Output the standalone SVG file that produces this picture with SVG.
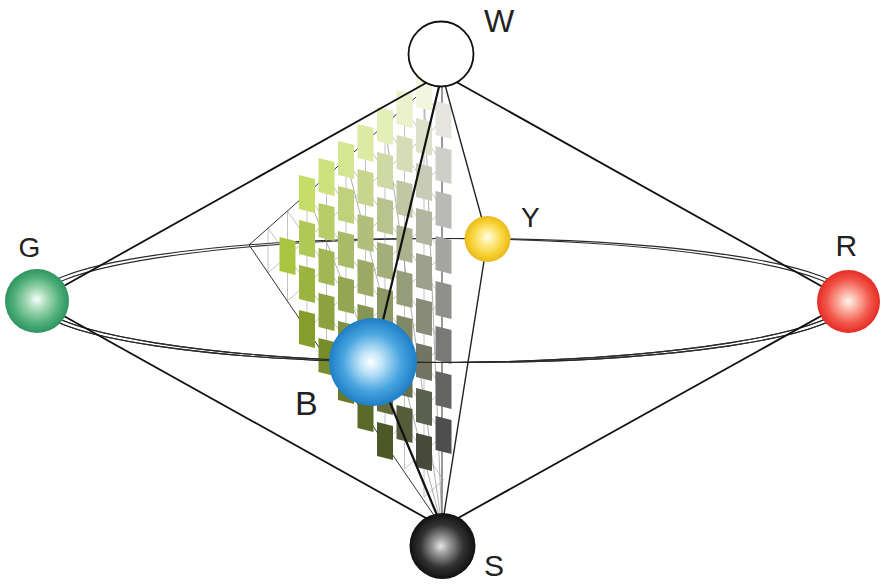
<svg xmlns="http://www.w3.org/2000/svg" xmlns:xlink="http://www.w3.org/1999/xlink" width="885" height="585" viewBox="0 0 885 585">
<style>
.lbl{font-family:"Liberation Sans",Arial,sans-serif;fill:#222}
.grid{stroke:#9a9a9a;stroke-width:0.6;fill:none}
.edge{stroke:#333;stroke-width:1;fill:none}
.cone{stroke:#111;stroke-width:1.8;fill:none}
.meri{stroke:#111;stroke-width:2.2;fill:none}
.meri2{stroke:#222;stroke-width:1.4;fill:none}
.eq{stroke:#2a2a2a;stroke-width:1.1;fill:none}
.fan{stroke:#777;stroke-width:0.6;fill:none}
</style>
<defs>
<path id="chip" d="M-8,-19 L8,-15 L8,19 L-8,15 Z"/>
<radialGradient id="gG" cx="0.5" cy="0.5" r="0.5" fx="0.5" fy="0.47">
<stop offset="0" stop-color="#f4fff8"/><stop offset="0.35" stop-color="#9fd6b2"/><stop offset="0.75" stop-color="#4bad77"/><stop offset="1" stop-color="#2f9460"/>
</radialGradient>
<radialGradient id="gR" cx="0.5" cy="0.5" r="0.5" fx="0.5" fy="0.5">
<stop offset="0" stop-color="#fff4ee"/><stop offset="0.3" stop-color="#fbb0a0"/><stop offset="0.7" stop-color="#f2554a"/><stop offset="1" stop-color="#e42c25"/>
</radialGradient>
<radialGradient id="gY" cx="0.5" cy="0.5" r="0.5" fx="0.5" fy="0.45">
<stop offset="0" stop-color="#fffdf0"/><stop offset="0.3" stop-color="#ffec90"/><stop offset="0.75" stop-color="#f6cf2e"/><stop offset="1" stop-color="#e9b820"/>
</radialGradient>
<radialGradient id="gB" cx="0.5" cy="0.5" r="0.5" fx="0.47" fy="0.5">
<stop offset="0" stop-color="#ffffff"/><stop offset="0.25" stop-color="#c0e4f8"/><stop offset="0.65" stop-color="#4aa6e0"/><stop offset="1" stop-color="#1d7ec6"/>
</radialGradient>
<radialGradient id="gS" cx="0.5" cy="0.5" r="0.5" fx="0.47" fy="0.5">
<stop offset="0" stop-color="#e6e6e6"/><stop offset="0.25" stop-color="#9a9a9a"/><stop offset="0.65" stop-color="#333"/><stop offset="1" stop-color="#101010"/>
</radialGradient>
<clipPath id="front"><rect x="0" y="300.5" width="885" height="300"/></clipPath>
</defs>
<rect width="885" height="585" fill="#ffffff"/>

<g id="connectors-back">
<ellipse class="eq" cx="442.5" cy="300.5" rx="406" ry="62" transform="rotate(0.3 442.5 300.5)"/>
<ellipse class="eq" cx="442.5" cy="300.5" rx="406" ry="62" transform="rotate(-0.3 442.5 300.5)"/>
<line class="edge" x1="442" y1="74" x2="442" y2="527"/>
</g>

<g id="hue-triangle">
<g class="grid">
<path d="M287.5,211V301M307,194V329M326.5,177V357M346,160V385M365.5,143V413M385,126V441M404.5,109V469M424,92V497M268,228V273"/>
<path d="M268,273L443.5,120M287.5,301L443.5,165M307,329L443.5,210M326.5,357L443.5,255M346,385L443.5,300M365.5,413L443.5,345M385,441L443.5,390M404.5,469L443.5,435M424,497L443.5,480"/>
<path d="M268,228L443.5,480M287.5,211L443.5,435M307,194L443.5,390M326.5,177L443.5,345M346,160L443.5,300M365.5,143L443.5,255M385,126L443.5,210M404.5,109L443.5,165M424,92L443.5,120"/>
</g>
<path class="fan" d="M442,527L307,194M442,527L346,160M442,527L385,126M442,527L424,92"/>
<path class="edge" d="M442,74L249,245L442,527"/>
<g id="chips">
<use xlink:href="#chip" href="#chip" x="287.5" y="256" fill="#a9c540"/>
<use xlink:href="#chip" href="#chip" x="307" y="194" fill="#c6de68"/>
<use xlink:href="#chip" href="#chip" x="307" y="239" fill="#b0c954"/>
<use xlink:href="#chip" href="#chip" x="307" y="284" fill="#9bb33f"/>
<use xlink:href="#chip" href="#chip" x="307" y="329" fill="#859e2b"/>
<use xlink:href="#chip" href="#chip" x="326.5" y="177" fill="#cde27c"/>
<use xlink:href="#chip" href="#chip" x="326.5" y="222" fill="#b8cd67"/>
<use xlink:href="#chip" href="#chip" x="326.5" y="267" fill="#a2b753"/>
<use xlink:href="#chip" href="#chip" x="326.5" y="312" fill="#8da23f"/>
<use xlink:href="#chip" href="#chip" x="326.5" y="357" fill="#778c2a"/>
<use xlink:href="#chip" href="#chip" x="346" y="160" fill="#d5e690"/>
<use xlink:href="#chip" href="#chip" x="346" y="205" fill="#bfd17b"/>
<use xlink:href="#chip" href="#chip" x="346" y="250" fill="#aabb67"/>
<use xlink:href="#chip" href="#chip" x="346" y="295" fill="#94a652"/>
<use xlink:href="#chip" href="#chip" x="346" y="340" fill="#7f903e"/>
<use xlink:href="#chip" href="#chip" x="346" y="385" fill="#697b2a"/>
<use xlink:href="#chip" href="#chip" x="365.5" y="143" fill="#dceaa3"/>
<use xlink:href="#chip" href="#chip" x="365.5" y="188" fill="#c7d58f"/>
<use xlink:href="#chip" href="#chip" x="365.5" y="233" fill="#b1bf7a"/>
<use xlink:href="#chip" href="#chip" x="365.5" y="278" fill="#9caa66"/>
<use xlink:href="#chip" href="#chip" x="365.5" y="323" fill="#869452"/>
<use xlink:href="#chip" href="#chip" x="365.5" y="368" fill="#717f3d"/>
<use xlink:href="#chip" href="#chip" x="365.5" y="413" fill="#5b6929"/>
<use xlink:href="#chip" href="#chip" x="385" y="126" fill="#e4eeb7"/>
<use xlink:href="#chip" href="#chip" x="385" y="171" fill="#ced9a3"/>
<use xlink:href="#chip" href="#chip" x="385" y="216" fill="#b9c38e"/>
<use xlink:href="#chip" href="#chip" x="385" y="261" fill="#a3ae7a"/>
<use xlink:href="#chip" href="#chip" x="385" y="306" fill="#8e9865"/>
<use xlink:href="#chip" href="#chip" x="385" y="351" fill="#788351"/>
<use xlink:href="#chip" href="#chip" x="385" y="396" fill="#636d3d"/>
<use xlink:href="#chip" href="#chip" x="385" y="441" fill="#4d5828"/>
<use xlink:href="#chip" href="#chip" x="404.5" y="109" fill="#ebf2cb"/>
<use xlink:href="#chip" href="#chip" x="404.5" y="154" fill="#d6ddb6"/>
<use xlink:href="#chip" href="#chip" x="404.5" y="199" fill="#c0c7a2"/>
<use xlink:href="#chip" href="#chip" x="404.5" y="244" fill="#abb28d"/>
<use xlink:href="#chip" href="#chip" x="404.5" y="289" fill="#959c79"/>
<use xlink:href="#chip" href="#chip" x="404.5" y="334" fill="#808765"/>
<use xlink:href="#chip" href="#chip" x="404.5" y="379" fill="#6a7150"/>
<use xlink:href="#chip" href="#chip" x="404.5" y="424" fill="#555c3c"/>
<use xlink:href="#chip" href="#chip" x="424" y="92" fill="#f3f6de"/>
<use xlink:href="#chip" href="#chip" x="424" y="137" fill="#dde1ca"/>
<use xlink:href="#chip" href="#chip" x="424" y="182" fill="#c8cbb6"/>
<use xlink:href="#chip" href="#chip" x="424" y="227" fill="#b2b6a1"/>
<use xlink:href="#chip" href="#chip" x="424" y="272" fill="#9da08d"/>
<use xlink:href="#chip" href="#chip" x="424" y="317" fill="#878b78"/>
<use xlink:href="#chip" href="#chip" x="424" y="362" fill="#727564"/>
<use xlink:href="#chip" href="#chip" x="424" y="407" fill="#5c6050"/>
<use xlink:href="#chip" href="#chip" x="424" y="452" fill="#474a3b"/>
<use xlink:href="#chip" href="#chip" x="443.5" y="120" fill="#e5e5de"/>
<use xlink:href="#chip" href="#chip" x="443.5" y="165" fill="#cfcfc9"/>
<use xlink:href="#chip" href="#chip" x="443.5" y="210" fill="#b9b9b5"/>
<use xlink:href="#chip" href="#chip" x="443.5" y="255" fill="#a4a4a0"/>
<use xlink:href="#chip" href="#chip" x="443.5" y="300" fill="#8f8f8c"/>
<use xlink:href="#chip" href="#chip" x="443.5" y="345" fill="#797978"/>
<use xlink:href="#chip" href="#chip" x="443.5" y="390" fill="#646463"/>
<use xlink:href="#chip" href="#chip" x="443.5" y="435" fill="#4e4e4f"/>
</g>
</g>

<g id="connectors">
<g clip-path="url(#front)">
<ellipse class="eq" cx="442.5" cy="300.5" rx="406" ry="62" transform="rotate(0.3 442.5 300.5)"/>
<ellipse class="eq" cx="442.5" cy="300.5" rx="406" ry="62" transform="rotate(-0.3 442.5 300.5)"/>
</g>
<path class="cone" d="M37,301L442,74L848,301L442,527Z"/>
<path class="meri" d="M442,74L373,362L442,527"/>
<path class="meri2" d="M442,74L487.5,239L442,527"/>
</g>

<g id="node-W">
<circle cx="441" cy="54" r="32.5" fill="#ffffff" stroke="#111" stroke-width="1.8"/>
<text class="lbl" x="484" y="32" font-size="32">W</text>
</g>
<g id="node-G">
<circle cx="37" cy="301" r="32" fill="url(#gG)"/>
<text class="lbl" x="18.5" y="257" font-size="28">G</text>
</g>
<g id="node-Y">
<circle cx="487.5" cy="239" r="23" fill="url(#gY)"/>
<text class="lbl" x="521" y="227" font-size="28">Y</text>
</g>
<g id="node-R">
<circle cx="848.5" cy="301.5" r="31.5" fill="url(#gR)"/>
<text class="lbl" x="835.5" y="256" font-size="30">R</text>
</g>
<g id="node-B">
<circle cx="373" cy="362" r="44" fill="url(#gB)"/>
<text class="lbl" x="295" y="415" font-size="34">B</text>
</g>
<g id="node-S">
<circle cx="442.5" cy="546" r="33" fill="url(#gS)"/>
<text class="lbl" x="484" y="576" font-size="30">S</text>
</g>
</svg>
